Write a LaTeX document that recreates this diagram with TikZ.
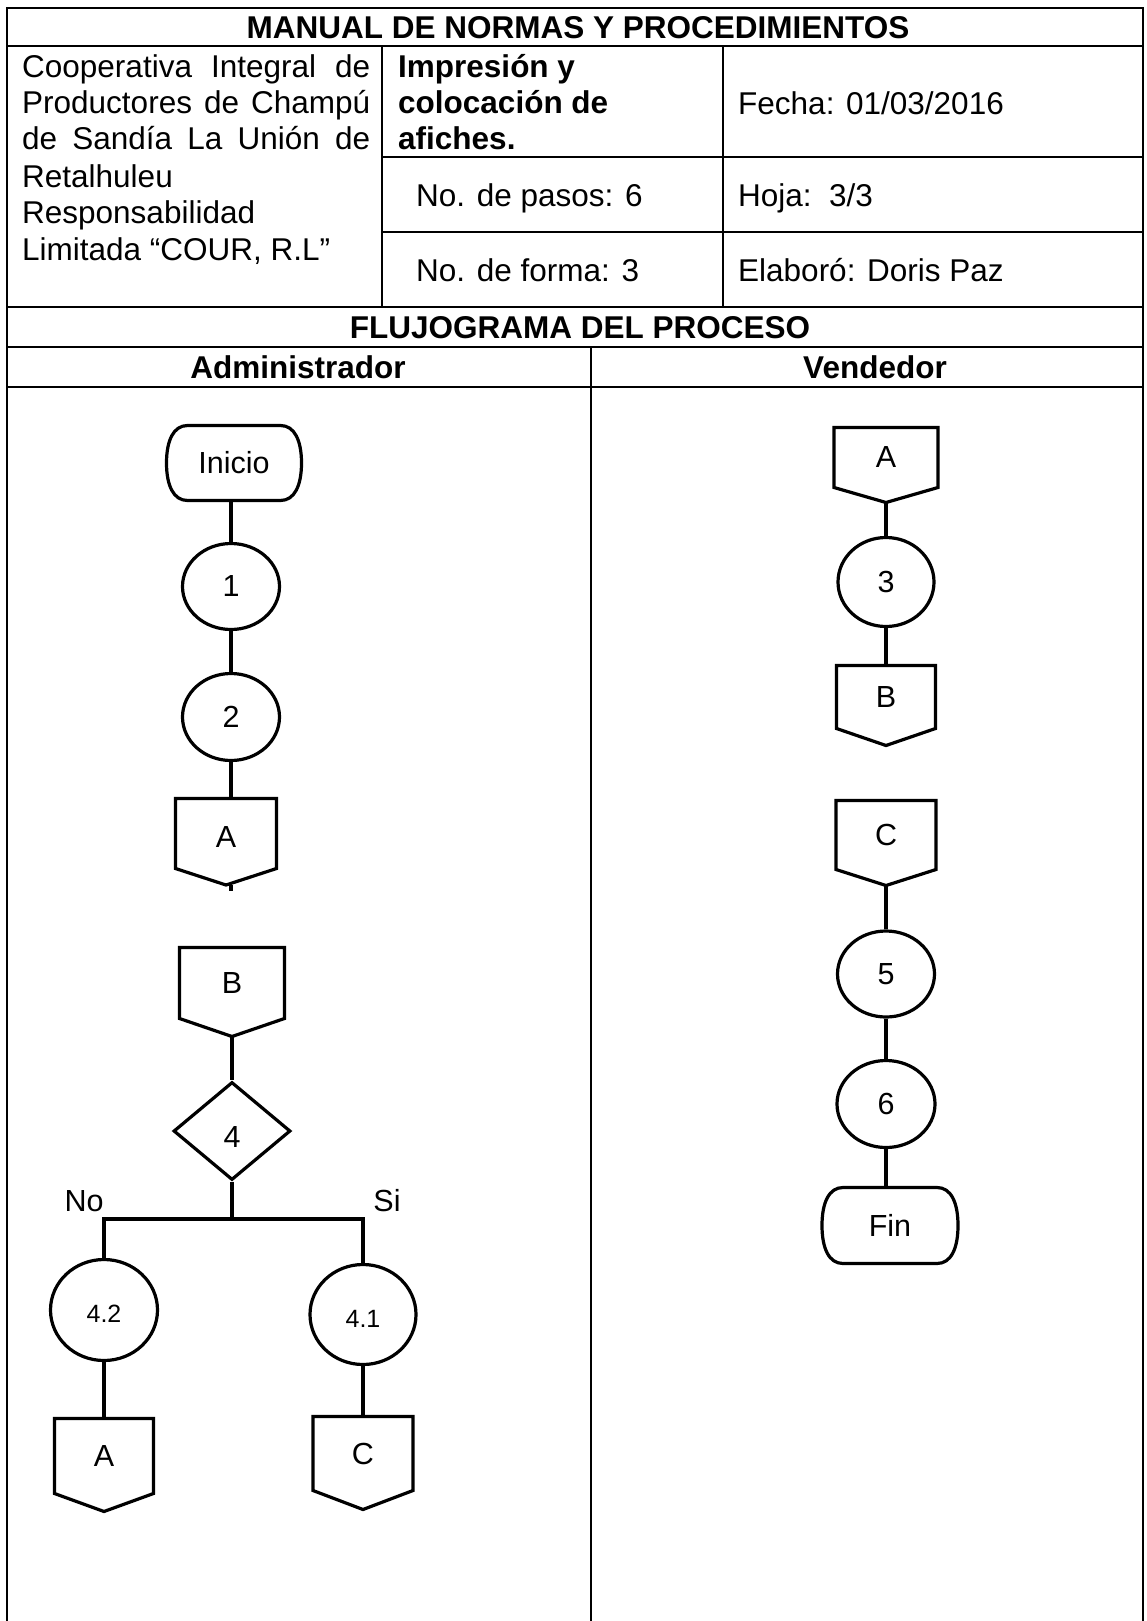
\documentclass[tikz,border=0pt]{standalone}
\usepackage{fontspec}
\setmainfont{Liberation Sans}
\newfontfamily\flowfont{Liberation Sans}
\usetikzlibrary{shapes.geometric,calc}

% off-page connector: name, cx, top, width, rect height, tip depth, label
\newcommand{\offpg}[7]{%
  \draw[shp] (#2-#4/2,#3) -- (#2+#4/2,#3) -- (#2+#4/2,#3+#5) -- (#2,#3+#5+#6) -- (#2-#4/2,#3+#5) -- cycle;
  \node[opg,minimum width=#4pt,minimum height=#5pt] (#1) at (#2,#3+#5/2) {#7};
  \coordinate (#1tip) at (#2,#3+#5+#6);
}
% terminator: name, cx, cy, width, height, label
\newcommand{\termshape}[6]{%
  \draw[shp] (#2-#4/2+21,#3-#5/2) -- (#2+#4/2-21,#3-#5/2)
    .. controls (#2+#4/2-7,#3-#5/2) and (#2+#4/2,#3-#5/2+15) .. (#2+#4/2,#3)
    .. controls (#2+#4/2,#3+#5/2-15) and (#2+#4/2-7,#3+#5/2) .. (#2+#4/2-21,#3+#5/2)
    -- (#2-#4/2+21,#3+#5/2)
    .. controls (#2-#4/2+7,#3+#5/2) and (#2-#4/2,#3+#5/2-15) .. (#2-#4/2,#3)
    .. controls (#2-#4/2,#3-#5/2+15) and (#2-#4/2+7,#3-#5/2) .. (#2-#4/2+21,#3-#5/2) -- cycle;
  \node[trm,minimum width=#4pt,minimum height=#5pt] (#1) at (#2,#3) {#6};
}
\newcommand{\lowered}[2]{\raisebox{-#1}[\height][\depth]{#2}}

\tikzset{
  tab/.style={line width=2.6pt},
  shp/.style={line width=3.2pt, fill=white, line join=miter},
  conn/.style={line width=3.8pt},
  ftxt/.style={font=\flowfont\fontsize{30.5}{34}\selectfont},
  fsmall/.style={font=\flowfont\fontsize{25}{28}\selectfont},
  opg/.style={rectangle, inner sep=0pt, ftxt},
  trm/.style={rectangle, inner sep=0pt, ftxt},
  proc/.style={ellipse, draw, line width=3.2pt, fill=white, inner sep=0pt, ftxt},
  dec/.style={diamond, draw, line width=3.2pt, fill=white, inner sep=0pt, ftxt},
  hdr/.style={inner sep=0pt, anchor=base west, font=\fontsize{31.5}{36}\selectfont},
  hdrb/.style={inner sep=0pt, anchor=base west, font=\fontsize{31.5}{36}\selectfont\bfseries},
  hdrc/.style={inner sep=0pt, anchor=base, font=\fontsize{31.5}{36}\selectfont\bfseries},
  lbl/.style={inner sep=0pt, anchor=base, ftxt},
}

\begin{document}
\begin{tikzpicture}[x=1pt,y=-1pt]
\useasboundingbox (0,0) rectangle (1146,1621);
\fill[white] (0,0) rectangle (1146,1621);

% ---------- table ----------
\draw[tab] (7,1621) -- (7,8) -- (1143,8) -- (1143,1621);
\draw[tab] (7,46) -- (1143,46);
\draw[tab] (7,307) -- (1143,307);
\draw[tab] (7,347) -- (1143,347);
\draw[tab] (7,387) -- (1143,387);
\draw[tab] (382,46) -- (382,307);
\draw[tab] (723,46) -- (723,307);
\draw[tab] (382,157) -- (1143,157);
\draw[tab] (382,232) -- (1143,232);
\draw[tab] (591,347) -- (591,1621);

% ---------- header texts ----------
\node[hdrc] (title) at (578,38.5) {MANUAL DE NORMAS Y PROCEDIMIENTOS};
\node[hdr] (co1) at (22,78) {\makebox[348pt][s]{Cooperativa Integral de}};
\node[hdr] (co2) at (22,113.5) {\makebox[348pt][s]{Productores de Champú}};
\node[hdr] (co3) at (22,149.5) {\makebox[348pt][s]{de Sandía La Unión de}};
\node[hdr] (co4) at (22,187.5) {Retalhuleu};
\node[hdr] (co5) at (22,223.5) {Responsabilidad};
\node[hdr] (co6) at (22,260.5) {Limitada “COUR, R.L”};
\node[hdrb] (im1) at (398,78) {Impresión y};
\node[hdrb] (im2) at (398,113.5) {colocación de};
\node[hdrb] (im3) at (398,149.5) {afiches.};
\node[hdr] (fe) at (738,114.5) {Fecha: 01/03/2016};
\node[hdr] (np) at (416,206.5) {No. de pasos: 6};
\node[hdr] (hj) at (738,206.5) {Hoja:\ \ 3/3};
\node[hdr] (nf) at (416,281.5) {No. de forma: 3};
\node[hdr] (el) at (738,281.5) {Elaboró: Doris Paz};
\node[hdrc] (fl) at (580,338) {FLUJOGRAMA DEL PROCESO};
\node[hdrc] (ad) at (298,378) {Administrador};
\node[hdrc] (ve) at (875,378) {Vendedor};

% ---------- Administrador column ----------
\termshape{ini}{234}{463}{135}{75}{Inicio}
\node[proc, minimum width=97pt, minimum height=86pt] (p1) at (231,586.5) {1};
\node[proc, minimum width=97pt, minimum height=87pt] (p2) at (231,717) {2};
\offpg{oaa}{226}{798.5}{101}{70}{16.5}{\lowered{3pt}{A}}
\coordinate (oaas) at (231,891);

\offpg{obb}{232}{947.5}{105}{71}{18}{B}
\node[dec, minimum width=117pt, minimum height=98pt] (d4) at (232,1131) {\lowered{6pt}{4}};
\coordinate (bm) at (232,1219);

\node[proc, fsmall, minimum width=107pt, minimum height=101pt] (p42) at (104,1310) {\lowered{4pt}{4.2}};
\node[proc, fsmall, minimum width=106pt, minimum height=100pt] (p41) at (363,1314.5) {\lowered{4pt}{4.1}};
\offpg{oa2}{104}{1418.5}{99}{75}{18}{A}
\offpg{oc2}{363}{1416.5}{100}{74}{19}{C}
\node[lbl] (no) at (84,1211) {No};
\node[lbl] (si) at (387,1211) {Si};

% ---------- Vendedor column ----------
\offpg{oar}{886}{427.5}{104}{60}{15}{A}
\node[proc, minimum width=96pt, minimum height=89pt] (p3) at (886,582) {3};
\offpg{obr}{886}{665.5}{99}{63}{17}{B}
\offpg{ocr}{886}{800.5}{100}{69}{16}{C}
\node[proc, minimum width=97pt, minimum height=86pt] (p5) at (886,974) {5};
\node[proc, minimum width=98pt, minimum height=87pt] (p6) at (886,1104) {6};
\termshape{fin}{890}{1225.5}{136}{76}{Fin}

% ---------- connectors ----------
\draw[conn] (p1 |- ini.south) -- (p1);
\draw[conn] (p1) -- (p2);
\draw[conn] (p2) -- (p2 |- oaa.north);
\draw[conn] (oaas |- oaatip) -- (oaas);
\draw[conn] (obbtip) -- (d4);
\draw[conn] (d4) -- (bm);
\draw[conn] (p42) |- (bm) -| (p41);
\draw[conn] (p42) -- (oa2);
\draw[conn] (p41) -- (oc2);

\draw[conn] (oartip) -- (p3);
\draw[conn] (p3) -- (obr);
\draw[conn] (ocrtip) -- (p5);
\draw[conn] (p5) -- (p6);
\draw[conn] (p6) -- (p6 |- fin.north);
\end{tikzpicture}
\end{document}
